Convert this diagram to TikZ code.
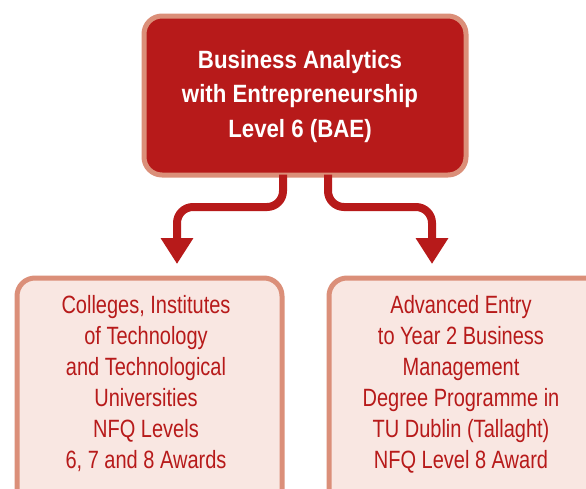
\documentclass[tikz,border=0pt]{standalone}
\usepackage{fontspec}
\setmainfont{Liberation Sans}
\newfontfamily\regf[FakeStretch=0.8]{Liberation Sans}
\newfontfamily\boldf[FakeStretch=0.89]{Liberation Sans}
\usetikzlibrary{arrows.meta}
\definecolor{darkred}{HTML}{B71A1A}
\definecolor{rim}{HTML}{DB8F79}
\definecolor{pale}{HTML}{F9E7E2}
\tikzset{
  topbox/.style={draw=rim, line width=5pt, fill=darkred, rounded corners=18pt},
  lowbox/.style={draw=rim, line width=5pt, fill=pale, rounded corners=18pt},
  toptext/.style={text=white, align=center, inner sep=0pt, font=\boldf\bfseries\fontsize{25}{34.5}\selectfont},
  lowtext/.style={text=darkred, align=center, inner sep=0pt, font=\regf\fontsize{25}{31}\selectfont},
  link/.style={draw=darkred, line width=8pt, rounded corners=16pt, -{Triangle[length=26pt,width=31pt]}}
}
\begin{document}
\begin{tikzpicture}[x=1pt,y=-1pt]
\useasboundingbox (0,0) rectangle (586,488);
\clip (0,0) rectangle (586,488);
\fill[white] (0,0) rectangle (586,488);
\node[topbox, minimum width=322pt, minimum height=159pt, anchor=north west] (top) at (141.5,13.5) {};
\node[lowbox, minimum width=265pt, minimum height=240pt, anchor=north west] (left) at (14.5,275.5) {};
\node[lowbox, minimum width=280pt, minimum height=240pt, anchor=north west] (right) at (326.5,275.5) {};
\node[toptext, anchor=base] (toptxt) at (300,137) {Business Analytics\\with Entrepreneurship\\Level 6 (BAE)};
\node[lowtext, anchor=base] (lefttxt) at (146,468) {Colleges, Institutes\\of Technology\\and Technological\\Universities\\NFQ Levels\\6, 7 and 8 Awards};
\node[lowtext, anchor=base] (righttxt) at (461,468) {Advanced Entry\\to Year 2 Business\\Management\\Degree Programme in\\TU Dublin (Tallaght)\\NFQ Level 8 Award};
\coordinate (ltip) at (177,264);
\coordinate (rtip) at (432,264);
\draw[link] (top.south -| 283,0) ++(0,-3) -- (283,207) -- (177,207) -- (ltip);
\draw[link] (top.south -| 328,0) ++(0,-3) -- (328,207) -- (432,207) -- (rtip);
\end{tikzpicture}
\end{document}
